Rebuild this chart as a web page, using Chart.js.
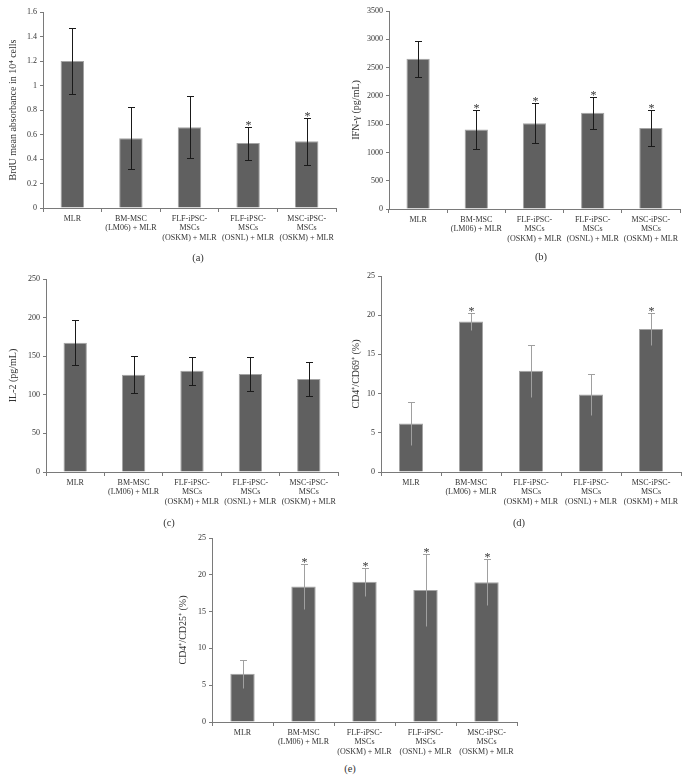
<!DOCTYPE html>
<html><head><meta charset="utf-8">
<script src="https://cdn.jsdelivr.net/npm/chart.js@4.4.1/dist/chart.umd.min.js"></script>
<style>
body{margin:0;background:#fff;}
#wrap{position:relative;width:687px;height:781px;overflow:hidden;background:#fff;}
canvas{position:absolute;}
.lab{position:absolute;font-family:"Liberation Serif",serif;font-size:10.5px;color:#333;transform:translate(-50%,-50%);}
</style></head><body>
<div id="wrap">
<canvas id="ca" width="343" height="248" style="left:0;top:0"></canvas>
<canvas id="cb" width="344" height="248" style="left:343px;top:0"></canvas>
<canvas id="cc" width="343" height="248" style="left:0;top:260px"></canvas>
<canvas id="cd" width="344" height="248" style="left:343px;top:260px"></canvas>
<canvas id="ce" width="350" height="240" style="left:170px;top:520px"></canvas>
<div class="lab" style="left:198px;top:257px">(a)</div>
<div class="lab" style="left:541px;top:256px">(b)</div>
<div class="lab" style="left:169px;top:522px">(c)</div>
<div class="lab" style="left:519px;top:522px">(d)</div>
<div class="lab" style="left:350px;top:768px">(e)</div>
</div>
<script>
// ---- data ----
const categories = ["MLR", ["BM-MSC","(LM06) + MLR"], ["FLF-iPSC-","MSCs","(OSKM) + MLR"], ["FLF-iPSC-","MSCs","(OSNL) + MLR"], ["MSC-iPSC-","MSCs","(OSKM) + MLR"]];

const brduValues = [1.2, 0.57, 0.66, 0.53, 0.545];
const brduErrors = [0.27, 0.255, 0.255, 0.135, 0.19];
const brduStars  = [false, false, false, true, true];
const brduTicks  = [0, 0.2, 0.4, 0.6, 0.8, 1, 1.2, 1.4, 1.6];

const ifnValues = [2655, 1405, 1515, 1700, 1430];
const ifnErrors = [315, 340, 357, 280, 315];
const ifnStars  = [false, true, true, true, true];
const ifnTicks  = [0, 500, 1000, 1500, 2000, 2500, 3000, 3500];

const il2Values = [167.5, 126, 131, 127, 120.5];
const il2Errors = [29.5, 24, 18.5, 21.5, 22];
const il2Stars  = [false, false, false, false, false];
const il2Ticks  = [0, 50, 100, 150, 200, 250];

const cd69Values = [6.2, 19.2, 12.9, 9.9, 18.25];
const cd69Errors = [2.75, 1.1, 3.3, 2.6, 2.05];
const cd69Stars  = [false, true, false, false, true];
const cd69Ticks  = [0, 5, 10, 15, 20, 25];

const cd25Values = [6.55, 18.4, 19.07, 17.95, 18.98];
const cd25Errors = [1.9, 3.1, 1.9, 4.85, 3.1];
const cd25Stars  = [false, true, true, true, true];
const cd25Ticks  = [0, 5, 10, 15, 20, 25];

// ---- drawing ----
const FONT = '"Liberation Serif", "Times New Roman", serif';
const errPlugin = {
  id: 'errbars',
  afterDatasetsDraw(chart, args, o) {
    const ctx = chart.ctx, meta = chart.getDatasetMeta(0), ys = chart.scales.y;
    ctx.save();
    ctx.strokeStyle = o.color; ctx.lineWidth = 1;
    o.values.forEach((v, i) => {
      const x = Math.round(meta.data[i].x) + 0.5;
      const top = Math.round(ys.getPixelForValue(v + o.errors[i])) + 0.5;
      const bot = Math.round(ys.getPixelForValue(v - o.errors[i])) + 0.5;
      ctx.beginPath();
      ctx.moveTo(x, top); ctx.lineTo(x, bot);
      ctx.moveTo(x - 3.5, top); ctx.lineTo(x + 3.5, top);
      if (o.lowCap) { ctx.moveTo(x - 3.5, bot); ctx.lineTo(x + 3.5, bot); }
      ctx.stroke();
      if (o.stars[i]) {
        ctx.fillStyle = '#333'; ctx.font = '12px ' + FONT;
        ctx.textAlign = 'center'; ctx.textBaseline = 'alphabetic';
        ctx.fillText('*', x, top + 1.5);
      }
    });
    ctx.restore();
  }
};

function makeChart(id, cfg) {
  const { values, errors, stars, ticks, title, yw, pt, xh, pr, errColor, lowCap } = cfg;
  new Chart(document.getElementById(id), {
    type: 'bar',
    data: { labels: categories, datasets: [{ data: values, backgroundColor: '#606060', borderColor: '#a4a4a4', borderWidth: 1, categoryPercentage: 0.8, barPercentage: 0.5 }] },
    options: {
      responsive: false, animation: false, devicePixelRatio: 1,
      layout: { padding: { top: pt, right: pr, left: 0, bottom: 0 } },
      plugins: { legend: { display: false }, tooltip: { enabled: false },
        errbars: { values, errors, stars, color: errColor, lowCap } },
      scales: {
        x: {
          grid: { display: true, drawOnChartArea: false, drawTicks: true, tickLength: 4, color: '#7a7a7a', offset: true },
          border: { display: true, color: '#7a7a7a', width: 1 },
          ticks: { color: '#333', font: { family: FONT, size: 8, lineHeight: 1.2 }, padding: 2, maxRotation: 0, autoSkip: false },
          afterFit(s) { s.height = xh; }
        },
        y: {
          min: ticks[0], max: ticks[ticks.length - 1],
          afterBuildTicks(s) { s.ticks = ticks.map(v => ({ value: v })); },
          grid: { display: true, drawOnChartArea: false, drawTicks: true, tickLength: 3, color: '#7a7a7a' },
          border: { display: true, color: '#7a7a7a', width: 1 },
          ticks: { color: '#333', font: { family: FONT, size: 8 }, padding: 3, callback: v => String(v) },
          title: { display: true, text: title, color: '#333', font: { family: FONT, size: 10 }, padding: { top: 7, bottom: 0 } },
          afterFit(s) { s.width = yw; }
        }
      }
    },
    plugins: [errPlugin]
  });
}

makeChart('ca', { values: brduValues, errors: brduErrors, stars: brduStars, ticks: brduTicks, title: 'BrdU mean absorbance in 10\u2074 cells', yw: 43, pt: 12, xh: 40, pr: 7, errColor: '#1a1a1a', lowCap: true });
makeChart('cb', { values: ifnValues, errors: ifnErrors, stars: ifnStars, ticks: ifnTicks, title: 'IFN-\u03b3 (pg/mL)', yw: 46, pt: 11, xh: 39, pr: 7, errColor: '#1a1a1a', lowCap: true });
makeChart('cc', { values: il2Values, errors: il2Errors, stars: il2Stars, ticks: il2Ticks, title: 'IL-2 (pg/mL)', yw: 46, pt: 19, xh: 36, pr: 5, errColor: '#1a1a1a', lowCap: true });
makeChart('cd', { values: cd69Values, errors: cd69Errors, stars: cd69Stars, ticks: cd69Ticks, title: 'CD4\u207a/CD69\u207a (%)', yw: 38, pt: 16, xh: 36, pr: 6, errColor: '#a0a0a0', lowCap: false });
makeChart('ce', { values: cd25Values, errors: cd25Errors, stars: cd25Stars, ticks: cd25Ticks, title: 'CD4\u207a/CD25\u207a (%)', yw: 42, pt: 18, xh: 38, pr: 3, errColor: '#a0a0a0', lowCap: false });
</script>
</body></html>
